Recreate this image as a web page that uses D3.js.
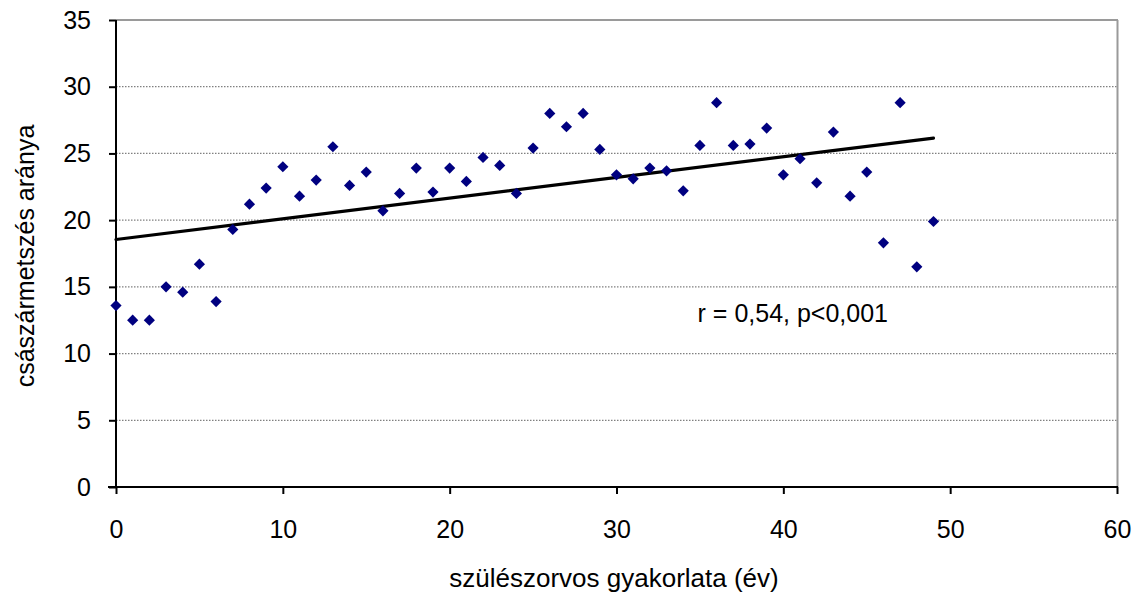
<!DOCTYPE html>
<html>
<head>
<meta charset="utf-8">
<script src="https://cdn.jsdelivr.net/npm/d3@7"></script>
<style>
  html, body { margin: 0; padding: 0; background: #fff; }
  svg { display: block; font-family: "Liberation Sans", Arial, sans-serif; }
</style>
</head>
<body>
<svg id="chart" width="1147" height="598"></svg>
<script>
// ---- data ----
const years = [0,1,2,3,4,5,6,7,8,9,10,11,12,13,14,15,16,17,18,19,20,21,22,23,24,25,26,27,28,29,30,31,32,33,34,35,36,37,38,39,40,41,42,43,44,45,46,47,48,49];
const rates = [13.6,12.5,12.5,15.0,14.6,16.7,13.9,19.3,21.2,22.4,24.0,21.8,23.0,25.5,22.6,23.6,20.7,22.0,23.9,22.1,23.9,22.9,24.7,24.1,22.0,25.4,28.0,27.0,28.0,25.3,23.4,23.1,23.9,23.7,22.2,25.6,28.8,25.6,25.7,26.9,23.4,24.6,22.8,26.6,21.8,23.6,18.3,28.8,16.5,19.9];
const trendX = [0, 49];
const trendY = [18.55, 26.15];
const xTicks = [0,10,20,30,40,50,60];
const yTicks = [0,5,10,15,20,25,30,35];
const xTitle = "szülészorvos gyakorlata (év)";
const yTitle = "császármetszés aránya";
const annotation = "r = 0,54, p<0,001";

// ---- layout ----
const L = 116, R = 1117, T = 20, B = 487;
const svg = d3.select("#chart");
const x = d3.scaleLinear().domain([0, 60]).range([L, R]);
const y = d3.scaleLinear().domain([0, 35]).range([B, T]);
const fs = 25;

// gridlines
svg.append("g").selectAll("line")
  .data(yTicks.filter(d => d > 0 && d < 35))
  .join("line")
  .attr("x1", L).attr("x2", R)
  .attr("y1", d => y(d)).attr("y2", d => y(d))
  .attr("stroke", "#808080").attr("stroke-width", 1.2)
  .attr("stroke-dasharray", "1.5,1.5");

// top and right border (gray)
svg.append("line").attr("x1", L).attr("x2", R + 1).attr("y1", T).attr("y2", T)
  .attr("stroke", "#9a9a9a").attr("stroke-width", 2);
svg.append("line").attr("x1", R + 0.5).attr("x2", R + 0.5).attr("y1", T).attr("y2", B)
  .attr("stroke", "#9a9a9a").attr("stroke-width", 2);

// y axis
const yAxis = d3.axisLeft(y).tickValues(yTicks).tickSize(7).tickPadding(18).tickFormat(d3.format("d"));
const gy = svg.append("g").attr("transform", `translate(${L},0)`).call(yAxis);
gy.select(".domain").attr("stroke", "#000").attr("stroke-width", 2).attr("d", `M0,${T}V${B}`);
gy.selectAll(".tick line").attr("stroke", "#000").attr("stroke-width", 2);
gy.selectAll(".tick text").attr("font-size", fs).attr("fill", "#000")
  .attr("font-family", "Liberation Sans, Arial, sans-serif");

// x axis
const xAxis = d3.axisBottom(x).tickValues(xTicks).tickSize(7).tickPadding(26).tickFormat(d3.format("d"));
const gx = svg.append("g").attr("transform", `translate(0,${B})`).call(xAxis);
gx.select(".domain").attr("stroke", "#000").attr("stroke-width", 2).attr("d", `M${L - 8},0H${R + 1}`);
gx.selectAll(".tick line").attr("stroke", "#000").attr("stroke-width", 2);
gx.selectAll(".tick text").attr("font-size", fs).attr("fill", "#000")
  .attr("font-family", "Liberation Sans, Arial, sans-serif");

// trend line
svg.append("line")
  .attr("x1", x(trendX[0])).attr("y1", y(trendY[0]))
  .attr("x2", x(trendX[1])).attr("y2", y(trendY[1]))
  .attr("stroke", "#000").attr("stroke-width", 3.2).attr("stroke-linecap", "round");

// points (diamonds)
const sym = d3.symbol().type(d3.symbolDiamond2).size(80);
svg.append("g").selectAll("path")
  .data(years.map((d, i) => [d, rates[i]]))
  .join("path")
  .attr("d", sym)
  .attr("transform", d => `translate(${x(d[0])},${y(d[1])})`)
  .attr("fill", "#000080");

// annotation
svg.append("text").attr("x", 888).attr("y", 322).attr("text-anchor", "end")
  .attr("font-size", fs).attr("fill", "#000").text(annotation);

// axis titles
svg.append("text").attr("x", 614).attr("y", 587).attr("text-anchor", "middle")
  .attr("font-size", 26).attr("fill", "#000").text(xTitle);
svg.append("text").attr("transform", "translate(34,256) rotate(-90)").attr("text-anchor", "middle")
  .attr("font-size", fs).attr("fill", "#000").text(yTitle);
</script>
</body>
</html>
